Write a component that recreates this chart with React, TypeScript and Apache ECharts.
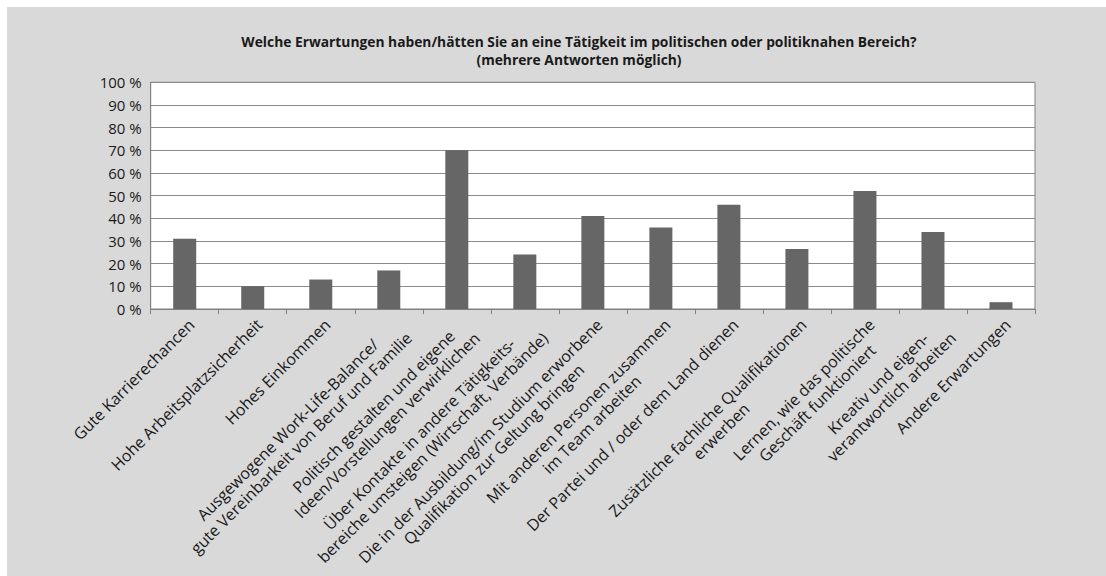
import React, { useEffect, useRef } from "react";
import * as echarts from "echarts";

const titleLines = [
  "Welche Erwartungen haben/hätten Sie an eine Tätigkeit im politischen oder politiknahen Bereich?",
  "(mehrere Antworten möglich)",
];

const categories = [
  "Gute Karrierechancen",
  "Hohe Arbeitsplatzsicherheit",
  "Hohes Einkommen",
  "Ausgewogene Work-Life-Balance/\ngute Vereinbarkeit von Beruf und Familie",
  "Politisch gestalten und eigene\nIdeen/Vorstellungen verwirklichen",
  "Über Kontakte in andere Tätigkeits-\nbereiche umsteigen (Wirtschaft, Verbände)",
  "Die in der Ausbildung/im Studium erworbene\nQualifikation zur Geltung bringen",
  "Mit anderen Personen zusammen\nim Team arbeiten",
  "Der Partei und / oder dem Land dienen",
  "Zusätzliche fachliche Qualifikationen\nerwerben",
  "Lernen, wie das politische\nGeschäft funktioniert",
  "Kreativ und eigen-\nverantwortlich arbeiten",
  "Andere Erwartungen",
];

const values = [31, 10, 13, 17, 70, 24, 41, 36, 46, 26.5, 52, 34, 3];

const yTicks = { min: 0, max: 100, interval: 10 };

const FONT = "'Open Sans', 'Noto Sans', sans-serif";

export default function App() {
  const ref = useRef<HTMLDivElement>(null);

  useEffect(() => {
    if (!ref.current) return;
    const chart = echarts.init(ref.current, null, { renderer: "svg" });
    chart.setOption({
      animation: false,
      backgroundColor: "#d9d9d9",
      title: {
        text: titleLines.join("\n"),
        left: 567,
        textAlign: "center",
        top: 20,
        textStyle: {
          fontFamily: FONT,
          fontSize: 13.8,
          fontWeight: "bold",
          color: "#1a1a1a",
          lineHeight: 18,
          align: "center",
        },
      },
      grid: {
        left: 143.7,
        right: 71,
        top: 75.3,
        bottom: 267,
        containLabel: false,
        outerBoundsMode: "none",
        show: true,
        backgroundColor: "#ffffff",
        borderColor: "#808080",
        borderWidth: 1,
      },
      xAxis: {
        type: "category",
        data: categories,
        axisLine: { lineStyle: { color: "#808080", width: 1 } },
        axisTick: { show: true, length: 5, lineStyle: { color: "#808080" } },
        axisLabel: {
          interval: 0,
          rotate: 45,
          margin: 6,
          verticalAlign: "top",
          hideOverlap: false,
          color: "#1a1a1a",
          fontFamily: FONT,
          fontSize: 16,
          lineHeight: 19,
          formatter: (v: string) =>
            v
              .split("\n")
              .map((l) => `{a|${l}}`)
              .join("\n"),
          rich: {
            a: {
              align: "center",
              fontFamily: FONT,
              fontSize: 16,
              lineHeight: 19,
              color: "#1a1a1a",
            },
          },
        },
      },
      yAxis: {
        type: "value",
        min: yTicks.min,
        max: yTicks.max,
        interval: yTicks.interval,
        axisLine: { show: true, lineStyle: { color: "#808080" } },
        axisTick: { show: false },
        splitLine: { show: true, lineStyle: { color: "#8a8a8a", width: 1 } },
        axisLabel: {
          formatter: "{value} %",
          margin: 9,
          color: "#1a1a1a",
          fontFamily: FONT,
          fontSize: 15,
        },
      },
      series: [
        {
          type: "bar",
          data: values,
          barWidth: 23,
          itemStyle: { color: "#666666" },
        },
      ],
    });
    return () => chart.dispose();
  }, []);

  return (
    <div
      ref={ref}
      style={{ position: "absolute", left: 7, top: 7, width: 1099, height: 569 }}
    />
  );
}
